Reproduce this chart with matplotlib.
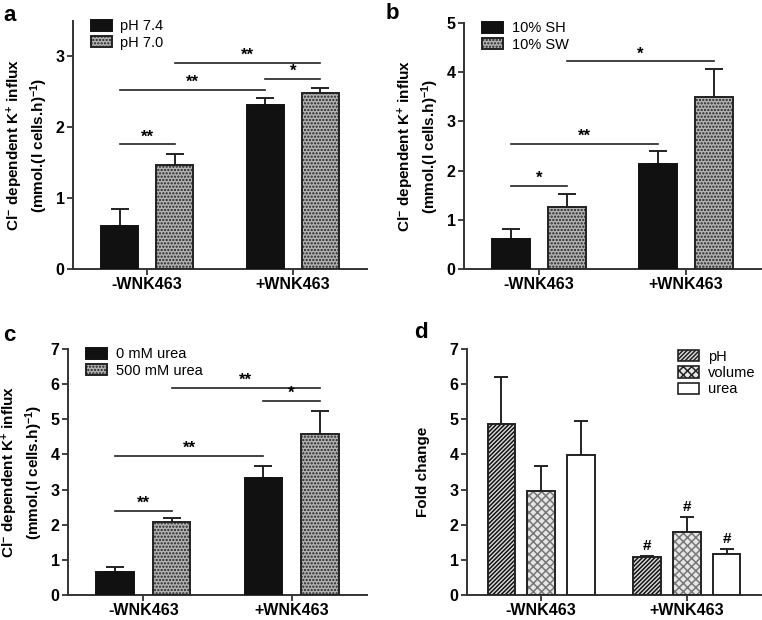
import numpy as np
import matplotlib.pyplot as plt
import matplotlib.patches as mpatches

plt.rcParams['font.family'] = ['Liberation Sans', 'DejaVu Sans']
plt.rcParams['mathtext.fontset'] = 'custom'
plt.rcParams['mathtext.rm'] = 'Liberation Sans:bold'
plt.rcParams['mathtext.default'] = 'rm'
plt.rcParams['hatch.linewidth'] = 1.1

# Data
groups = ['-WNK463', '+WNK463']

a_labels = ['pH 7.4', 'pH 7.0']
a_means = [[0.60, 2.32], [1.47, 2.48]]
a_errs = [[0.25, 0.09], [0.16, 0.08]]
# (bar i, bar j, height, text), bars indexed 0..3 = g0s0, g0s1, g1s0, g1s1
a_sig = [(0, 1, 1.76, '**'), (0, 2, 2.53, '**'), (2, 3, 2.68, '*'), (1, 3, 2.91, '**')]

b_labels = ['10% SH', '10% SW']
b_means = [[0.60, 2.13], [1.26, 3.49]]
b_errs = [[0.22, 0.26], [0.27, 0.57]]
b_sig = [(0, 1, 1.69, '*'), (0, 2, 2.55, '**'), (1, 3, 4.22, '*')]

c_labels = ['0 mM urea', '500 mM urea']
c_means = [[0.66, 3.32], [2.07, 4.58]]
c_errs = [[0.13, 0.34], [0.11, 0.67]]
c_sig = [(0, 1, 2.40, '**'), (0, 2, 3.95, '**'), (2, 3, 5.53, '*'), (1, 3, 5.90, '**')]

d_labels = ['pH', 'volume', 'urea']
d_means = [[4.87, 1.07], [2.96, 1.78], [3.99, 1.17]]
d_errs = [[1.33, 0.03], [0.71, 0.43], [0.96, 0.13]]

W, H = 762, 620
fig = plt.figure(figsize=(W / 100, H / 100), dpi=100)


def px_axes(l, t, r, b):
    return fig.add_axes([l / W, 1 - b / H, (r - l) / W, (b - t) / H])


GRAY = '#b4b4b4'


def style(ax, ylim, yticks):
    ax.set_ylim(0, ylim)
    ax.set_xlim(-0.51, 1.51)
    ax.set_yticks(yticks)
    ax.set_xticks([0, 1])
    ax.set_xticklabels(groups, fontsize=11.5, fontweight='bold')
    for lab in ax.get_yticklabels():
        lab.set_fontsize(11.5)
        lab.set_fontweight('bold')
    for s in ['top', 'right']:
        ax.spines[s].set_visible(False)
    for s in ['left', 'bottom']:
        ax.spines[s].set_linewidth(1.4)
        ax.spines[s].set_color('#333333')
    ax.tick_params(width=1.3, length=4, pad=2, color='#333333')


def two_bar(ax, labels, means, errs, sig):
    off, w = 0.19, 0.255
    x = np.arange(2)
    xs = []
    for k in range(2):
        pos = x + (-off if k == 0 else off)
        xs.append(pos)
        if k == 0:
            ax.bar(pos, means[k], w, color='#111111', edgecolor='#111111', lw=1.4, label=labels[k], zorder=3)
        else:
            ax.bar(pos, means[k], w, color=GRAY, edgecolor='#222222', lw=1.4, hatch='.....',
                   label=labels[k], zorder=3)
        ax.errorbar(pos, means[k], yerr=[np.zeros(2), errs[k]], fmt='none', ecolor='#222222',
                    elinewidth=1.4, capsize=6.5, capthick=1.4, zorder=2)
    centers = [xs[0][0], xs[1][0], xs[0][1], xs[1][1]]
    for i, j, hgt, txt in sig:
        ax.plot([centers[i], centers[j]], [hgt, hgt], color='#222222', lw=1.2)
        ax.text((centers[i] + centers[j]) / 2, hgt, txt, ha='center', va='bottom',
                fontsize=12, fontweight='bold')
    ax.legend(loc='upper left', bbox_to_anchor=(0.04, 1.03), frameon=False, fontsize=10.5,
              handlelength=1.45, handleheight=0.8, handletextpad=0.6, labelspacing=0.15,
              borderaxespad=0.0)
    ax.set_ylabel('Cl$^{-}$ dependent K$^{+}$ influx\n(mmol.(l cells.h)$^{-1}$)',
                  fontsize=11, fontweight='bold', labelpad=4)


# Panel a
ax = px_axes(73, 21, 367, 269)
two_bar(ax, a_labels, a_means, a_errs, a_sig)
style(ax, 3.5, [0, 1, 2, 3])

# Panel b
ax = px_axes(464, 23, 761, 269)
two_bar(ax, b_labels, b_means, b_errs, b_sig)
style(ax, 5, [0, 1, 2, 3, 4, 5])

# Panel c
ax = px_axes(68, 349, 367, 595)
two_bar(ax, c_labels, c_means, c_errs, c_sig)
style(ax, 7, range(8))

# Panel d
ax = px_axes(467, 349, 761, 595)
off, w = 0.274, 0.19
x = np.arange(2)
hatches = ['////////', 'xxxx', None]
hcols = ['#111111', '#777777', None]
fills = ['#dddddd', '#e6e6e6', 'white']
handles = []
for k in range(3):
    pos = x + (k - 1) * off
    if hatches[k]:
        ax.bar(pos, d_means[k], w, color=fills[k], edgecolor=hcols[k], lw=0, hatch=hatches[k], zorder=3)
    ax.bar(pos, d_means[k], w, fill=(hatches[k] is None), facecolor='white', edgecolor='#222222',
           lw=1.4, zorder=4)
    ax.errorbar(pos, d_means[k], yerr=[np.zeros(2), d_errs[k]], fmt='none', ecolor='#222222',
                elinewidth=1.4, capsize=5, capthick=1.4, zorder=2)
    ax.text(pos[1], d_means[k][1] + d_errs[k][1] + 0.1, '#', ha='center', va='bottom',
            fontsize=11, fontweight='bold')
    handles.append(mpatches.Patch(facecolor=fills[k], edgecolor='#222222',
                                  hatch=hatches[k], lw=1.2, label=d_labels[k]))
ax.legend(handles=handles, loc='upper right', bbox_to_anchor=(1.0, 1.02), frameon=False,
          fontsize=10.5, handlelength=1.45, handleheight=0.8, handletextpad=0.6,
          labelspacing=0.15, borderaxespad=0.0)
ax.set_ylabel('Fold change', fontsize=11, fontweight='bold', labelpad=14)
style(ax, 7, range(8))

# Panel letters
for lx, ly, t in [(3, 5, 'a'), (386, 3, 'b'), (3, 325, 'c'), (414, 322, 'd')]:
    fig.text(lx / W, 1 - ly / H, t, fontsize=16, fontweight='bold', va='top', ha='left')

fig.savefig('out.png', dpi=100)
